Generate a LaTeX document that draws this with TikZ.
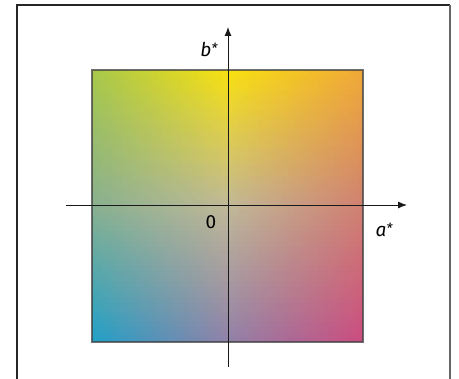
\documentclass[tikz,border=0pt]{standalone}
\usepackage{fontspec}
\setsansfont{Fira Sans}
\usepackage{xcolor}
\usepackage{tikz}
\usetikzlibrary{arrows.meta}
% corner and edge colours of the a*b* plane
\definecolor{TL}{HTML}{A8C84A}\definecolor{TM}{HTML}{F8E010}\definecolor{TR}{HTML}{F0A838}
\definecolor{ML}{HTML}{88B090}\definecolor{MC}{HTML}{C0B898}\definecolor{MR}{HTML}{D08070}
\definecolor{BL}{HTML}{20A0C8}\definecolor{BM}{HTML}{9080A8}\definecolor{BR}{HTML}{CC4C80}
\tikzset{
  frame/.style={draw=black!85, line width=1.3pt},
  plane/.style={draw=black!75, draw opacity=0.75, line width=1.1pt},
  axis/.style={draw=black!90, line width=0.9pt, -{Latex[length=9pt,width=7pt]}},
  lbl/.style={font=\sffamily\fontsize{19}{22}\selectfont, inner sep=0pt}
}
\newcommand{\ncell}{54}
\newcommand{\astx}{\raisebox{3pt}{\fontsize{14}{14}\selectfont *}}

\begin{document}
\begin{tikzpicture}[x=1pt,y=-1pt]
\useasboundingbox (0,0) rectangle (459,379);
\coordinate (tl) at (92,70); \coordinate (br) at (363,342);
% shaded plane, built from small cells (bilinear between 3x3 colours)
\foreach \k in {1,...,\ncell}{
  \pgfmathsetmacro\vv{(\k-0.5)/\ncell}
  \pgfmathsetmacro\ya{70+(\k-1)*272/\ncell}
  \pgfmathsetmacro\yb{70+\k*272/\ncell+0.4}
  \ifdim\vv pt<0.5pt
    \pgfmathtruncatemacro\pv{2*\vv*100}
    \colorlet{cl}{ML!\pv!TL}\colorlet{cm}{MC!\pv!TM}\colorlet{cr}{MR!\pv!TR}
  \else
    \pgfmathtruncatemacro\pv{(2*\vv-1)*100}
    \colorlet{cl}{BL!\pv!ML}\colorlet{cm}{BM!\pv!MC}\colorlet{cr}{BR!\pv!MR}
  \fi
  \foreach \i in {1,...,\ncell}{
    \pgfmathsetmacro\uu{(\i-0.5)/\ncell}
    \pgfmathsetmacro\xa{92+(\i-1)*271/\ncell}
    \pgfmathsetmacro\xb{92+\i*271/\ncell+0.4}
    \ifdim\uu pt<0.5pt
      \pgfmathtruncatemacro\pu{2*\uu*100}
      \colorlet{cc}{cm!\pu!cl}
    \else
      \pgfmathtruncatemacro\pu{(2*\uu-1)*100}
      \colorlet{cc}{cr!\pu!cm}
    \fi
    \fill[cc] (\xa,\ya) rectangle (\xb,\yb);
  }
}
\draw[plane] (tl) rectangle (br);
% outer frame, open at the bottom
\coordinate (fa) at (17,379); \coordinate (fb) at (17,5);
\coordinate (fc) at (450,5); \coordinate (fd) at (450,379);
\draw[frame] (fa) -- (fb) -- (fc);
\draw[frame, draw=black!60] (fc) -- (fd);
% axes
\coordinate (xs) at (66,205); \coordinate (xe) at (407,205);
\coordinate (ys) at (228,367); \coordinate (ye) at (228,27);
\draw[axis] (xs) -- (xe);
\draw[axis] (ys) -- (ye);
\node[lbl] (bstar) at (209,49) {\itshape b\astx};
\node[lbl] (zero) at (211,222) {0};
\node[lbl] (astar) at (384,230) {\itshape a\astx};
\end{tikzpicture}
\end{document}
